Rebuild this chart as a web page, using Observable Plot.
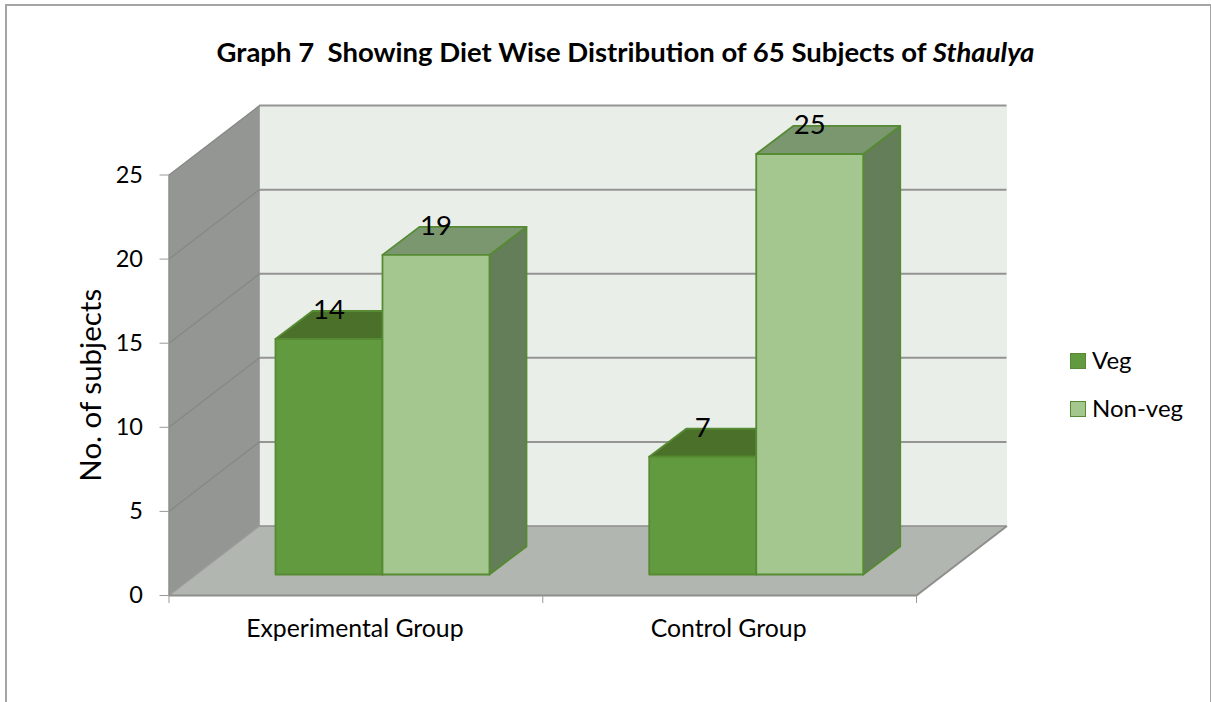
<!DOCTYPE html>
<html>
<head>
<meta charset="utf-8">
<script src="https://cdn.jsdelivr.net/npm/d3@7"></script>
<script src="https://cdn.jsdelivr.net/npm/@observablehq/plot@0.6"></script>
<style>
  html, body { margin: 0; padding: 0; background: #fff; overflow: hidden; }
  #stage { position: relative; width: 1211px; height: 702px; overflow: hidden; font-family: Lato, sans-serif; color: #000; }
  #frame { position: absolute; left: 5px; top: 4px; width: 1203px; height: 800px; border: 2px solid #a5a5a5; pointer-events: none; }
  #title { position: absolute; left: 0; width: 1251px; top: 38px; text-align: center; font-size: 27.5px; font-weight: 700; line-height: 28px; white-space: pre; }
  .lg { position: absolute; left: 1070px; font-size: 24px; line-height: 26px; white-space: nowrap; }
  .lg i { position: absolute; left: 0; top: 4px; width: 14px; height: 14px; border: 1px solid #568a33; }
  .lg span { position: absolute; left: 22px; top: -2px; }
</style>
</head>
<body>
<div id="stage">
  <div id="plot"></div>
  <div id="title"></div>
  <div id="legend"></div>
  <div id="frame"></div>
</div>
<script>
const titleParts = ["Graph 7  Showing Diet Wise Distribution of 65 Subjects of ", "Sthaulya"];
const yLabel = "No. of subjects";
const groups = ["Experimental Group", "Control Group"];
const seriesNames = ["Veg", "Non-veg"];
const vegValues = [14, 7];
const nonVegValues = [19, 25];
const yTicks = [0, 5, 10, 15, 20, 25];
const xBoundaries = [0, 1, 2];

const fronts = ["#629b3f", "#a3c78f"];
const tops = ["#4a7029", "#7a976f"];
const sides = ["#3f5f24", "#647e5a"];
const edge = "#568a33";

// depth of the 3D box and bars, in data units of the two scales
const wallX = 0.2421, wallY = 4.13;
const barW = 0.2863, barOffX = 0.0712, barOffY = 1.25, barDX = 0.099, barDY = 1.665;

const poly = (pts, fill, stroke, strokeWidth = 1.8) =>
  Plot.line([...pts, pts[0]].map(([x, y]) => ({x, y})), {x: "x", y: "y", fill, stroke, strokeWidth});

const barFaces = [];
groups.forEach((g, i) => {
  [vegValues[i], nonVegValues[i]].forEach((v, s) => {
    const x1 = i + 0.5 + barOffX + (s - 1) * barW, x2 = x1 + barW;
    const y1 = barOffY, y2 = v + barOffY;
    barFaces.push(
      poly([[x2, y1], [x2 + barDX, y1 + barDY], [x2 + barDX, y2 + barDY], [x2, y2]], sides[s], edge),
      poly([[x1, y2], [x2, y2], [x2 + barDX, y2 + barDY], [x1 + barDX, y2 + barDY]], tops[s], edge),
      poly([[x1, y1], [x2, y1], [x2, y2], [x1, y2]], fronts[s], edge)
    );
  });
});

const labelRows = groups.flatMap((g, i) => [
  {x: i + 0.5 + barOffX - barW / 2, y: vegValues[i] + barOffY, t: String(vegValues[i])},
  {x: i + 0.5 + barOffX + barW / 2, y: nonVegValues[i] + barOffY, t: String(nonVegValues[i])}
]);
const groupRows = groups.map((g, i) => ({x: i + 0.5, t: g}));

const chart = Plot.plot({
  width: 1211,
  height: 702,
  marginLeft: 168.5,
  marginRight: 295,
  marginTop: 174.5,
  marginBottom: 107,
  style: {fontFamily: "Lato, sans-serif", background: "transparent", color: "#000", overflow: "visible"},
  x: {domain: [0, 2]},
  y: {domain: [0, 25]},
  marks: [
    // back wall, floor, side wall
    poly([[wallX, wallY], [2 + wallX, wallY], [2 + wallX, 25 + wallY], [wallX, 25 + wallY]], "#e9eee8", "none"),
    poly([[0, 0], [0, 25], [wallX, 25 + wallY], [wallX, wallY]], "#939693", "none"),
    poly([[0, 0], [2, 0], [2 + wallX, wallY], [wallX, wallY]], "#b2b6b0", "none"),
    // gridlines on back wall and side wall
    Plot.ruleY(yTicks.slice(1), {y: d => d + wallY, x1: wallX, x2: 2 + wallX, stroke: "#949593", strokeWidth: 2}),
    Plot.link(yTicks.slice(1), {x1: 0, x2: wallX, y1: d => d, y2: d => d + wallY, stroke: "#858785", strokeWidth: 1.2}),
    // floor edges
    Plot.ruleY([wallY], {x1: wallX, x2: 2 + wallX, stroke: "#8e8e8c", strokeWidth: 1.5}),
    Plot.link([0], {x1: 0, x2: wallX, y1: 0, y2: wallY, stroke: "#9a9c9a", strokeWidth: 1.2}),
    Plot.link([0], {x1: 2, x2: 2 + wallX, y1: 0, y2: wallY, stroke: "#8e8e8c", strokeWidth: 2}),
    Plot.ruleX([0], {y1: 0, y2: 25, stroke: "#8e8e8c", strokeWidth: 1.5}),
    Plot.ruleX([wallX], {y1: wallY, y2: 25 + wallY, stroke: "#8f918f", strokeWidth: 0.6}),
    Plot.ruleY([0], {x1: 0, x2: 2, stroke: "#8e8e8c", strokeWidth: 2}),
    // bars
    ...barFaces,
    // value labels
    Plot.text(labelRows, {x: "x", y: "y", text: "t", dy: -29, fontSize: 27.5, fill: "#000"}),
    // axes
    Plot.axisY({ticks: yTicks, tickSize: 9, tickPadding: 17, stroke: "#999", fontSize: 23.5, fill: "#000", label: null, tickFormat: d => String(d)}),
    Plot.axisX({ticks: xBoundaries, tickSize: 8, stroke: "#999", fill: "none", label: null}),
    Plot.text(groupRows, {x: "x", y: 0, dx: -1, text: "t", dy: 34, fontSize: 24.8, fill: "#000"}),
    Plot.text([yLabel], {frameAnchor: "left", textAnchor: "middle", dx: -77, rotate: -90, text: d => d, fontSize: 29.5, fill: "#000"})
  ]
});
document.getElementById("plot").appendChild(chart);

const title = document.getElementById("title");
title.append(document.createTextNode(titleParts[0]));
const em = document.createElement("em");
em.textContent = titleParts[1];
title.append(em);

const legend = document.getElementById("legend");
seriesNames.forEach((name, s) => {
  const row = document.createElement("div");
  row.className = "lg";
  row.style.top = (349 + s * 47.5) + "px";
  const sw = document.createElement("i");
  sw.style.background = fronts[s];
  const tx = document.createElement("span");
  tx.textContent = name;
  row.append(sw, tx);
  legend.append(row);
});
</script>
</body>
</html>
